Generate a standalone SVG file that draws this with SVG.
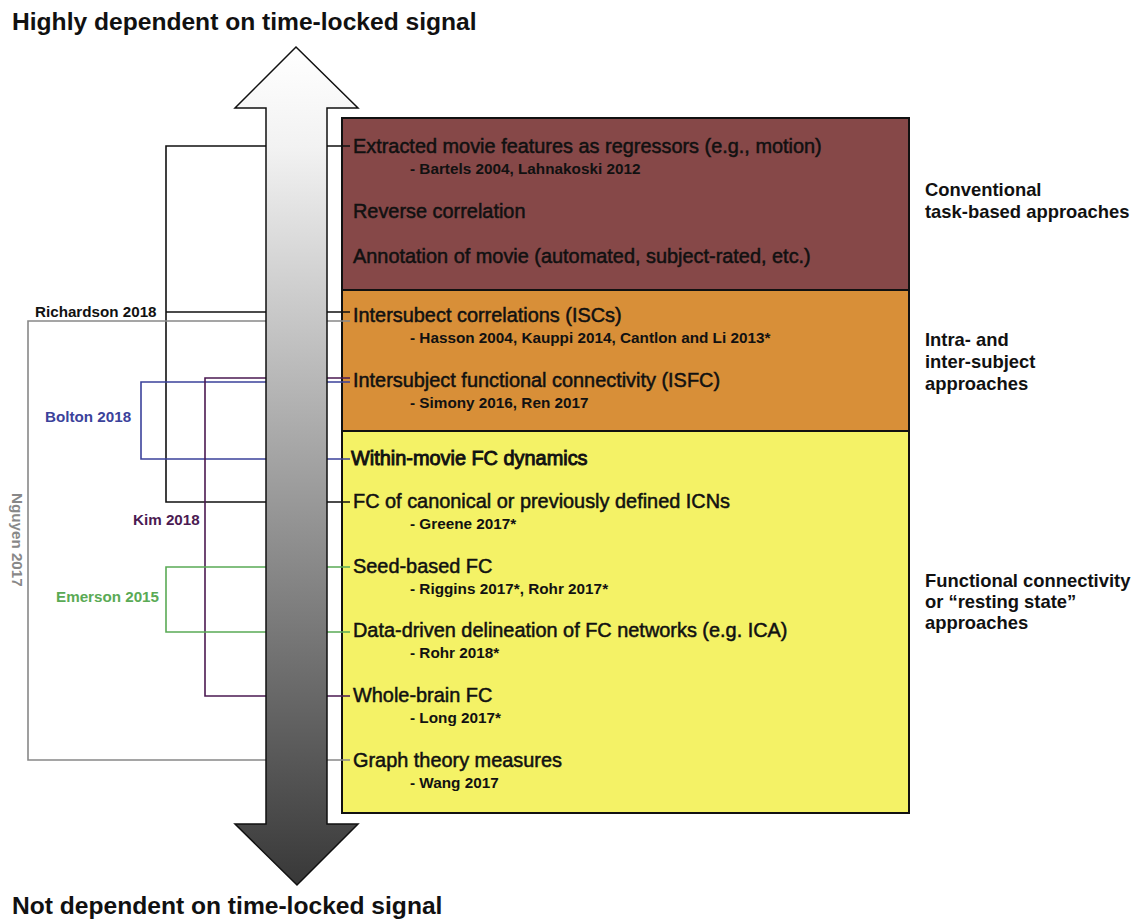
<svg xmlns="http://www.w3.org/2000/svg" width="1136" height="920" viewBox="0 0 1136 920">
<defs>
<linearGradient id="shaft" x1="0" y1="47" x2="0" y2="885" gradientUnits="userSpaceOnUse">
<stop offset="0" stop-color="#ffffff"/>
<stop offset="0.12" stop-color="#f2f2f2"/>
<stop offset="1" stop-color="#383838"/>
</linearGradient>
<style>
text{font-family:"Liberation Sans",Arial,sans-serif;fill:#111}
.title{font-size:24.6px;font-weight:bold}
.main{font-size:19.9px;stroke:#111;stroke-width:0.5}
.sub{font-size:15.3px;font-weight:bold}
.cat{font-size:18.4px;font-weight:bold}
.ref{font-size:15.2px;font-weight:bold}
.box{stroke:#111;stroke-width:2}
.c{fill:none;stroke-width:1.6}
</style>
</defs>
<rect width="1136" height="920" fill="#ffffff"/>
<text class="title" x="12" y="30">Highly dependent on time-locked signal</text>
<text class="title" x="12" y="914">Not dependent on time-locked signal</text>

<g id="box-conventional">
<rect class="box" x="342" y="118" width="567" height="172" fill="#864848"/>
<text class="main" x="353" y="153">Extracted movie features as regressors (e.g., motion)</text>
<text class="sub" x="410" y="174">- Bartels 2004, Lahnakoski 2012</text>
<text class="main" x="353" y="218">Reverse correlation</text>
<text class="main" x="353" y="263">Annotation of movie (automated, subject-rated, etc.)</text>
</g>
<g id="box-intersubject">
<rect class="box" x="342" y="290" width="567" height="141" fill="#d88f38"/>
<text class="main" x="353" y="322">Intersubect correlations (ISCs)</text>
<text class="sub" x="410" y="343">- Hasson 2004, Kauppi 2014, Cantlon and Li 2013*</text>
<text class="main" x="353" y="387">Intersubject functional connectivity (ISFC)</text>
<text class="sub" x="410" y="408">- Simony 2016, Ren 2017</text>
</g>
<g id="box-fc">
<rect class="box" x="342" y="431" width="567" height="382" fill="#f4f266"/>
<text class="main" x="351" y="465" style="stroke-width:0.9">Within-movie FC dynamics</text>
<text class="main" x="353" y="508">FC of canonical or previously defined ICNs</text>
<text class="sub" x="410" y="529">- Greene 2017*</text>
<text class="main" x="353" y="573">Seed-based FC</text>
<text class="sub" x="410" y="594">- Riggins 2017*, Rohr 2017*</text>
<text class="main" x="353" y="637">Data-driven delineation of FC networks (e.g. ICA)</text>
<text class="sub" x="410" y="658">- Rohr 2018*</text>
<text class="main" x="353" y="702">Whole-brain FC</text>
<text class="sub" x="410" y="723">- Long 2017*</text>
<text class="main" x="353" y="767">Graph theory measures</text>
<text class="sub" x="410" y="788">- Wang 2017</text>
</g>

<g id="connectors">
<path class="c" stroke="#111111" d="M350,146 H166 V502 H350 M166,312 H350"/>
<path class="c" stroke="#888888" d="M350,321 H28 V760 H350"/>
<path class="c" stroke="#3b429b" d="M350,382 H141 V459 H350"/>
<path class="c" stroke="#4b1a52" d="M350,378 H205 V696 H350"/>
<path class="c" stroke="#5aaa55" d="M350,567 H166 V632 H350"/>
</g>

<g id="arrow">
<polygon points="296,47 358,108 327,108 327,824 358,824 297,885 235,824 266,824 266,108 235,108" fill="url(#shaft)" stroke="#111" stroke-width="1.5" stroke-linejoin="miter"/>
</g>

<g id="labels">
<text class="ref" x="35" y="317">Richardson 2018</text>
<text class="ref" x="45" y="422" style="fill:#3b429b">Bolton 2018</text>
<text class="ref" x="133" y="525" style="fill:#4b1a52">Kim 2018</text>
<text class="ref" x="56" y="602" style="fill:#5aaa55">Emerson 2015</text>
<text class="ref" transform="translate(12,493) rotate(90)" style="fill:#888888">Nguyen 2017</text>
</g>

<g id="categories">
<text class="cat" x="925" y="196">Conventional</text>
<text class="cat" x="925" y="218">task-based approaches</text>
<text class="cat" x="925" y="346">Intra- and</text>
<text class="cat" x="925" y="368">inter-subject</text>
<text class="cat" x="925" y="390">approaches</text>
<text class="cat" x="925" y="587">Functional connectivity</text>
<text class="cat" x="925" y="608">or “resting state”</text>
<text class="cat" x="925" y="629">approaches</text>
</g>
</svg>
